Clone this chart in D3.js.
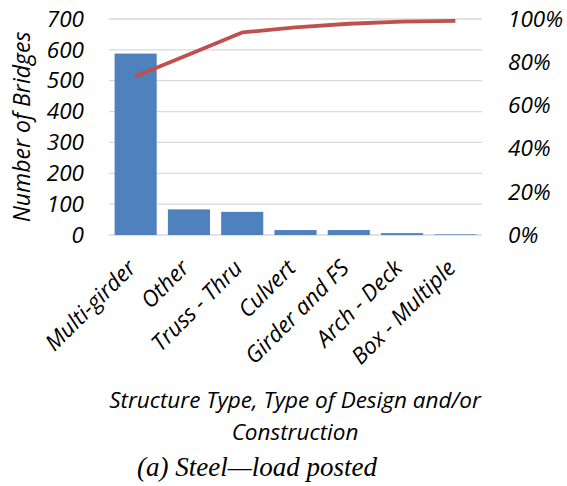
<!DOCTYPE html>
<html><head><meta charset="utf-8">
<script src="https://cdn.jsdelivr.net/npm/d3@7"></script>
<style>body{margin:0;background:#fff;} svg{display:block;}</style>
</head><body>
<svg id="chart" width="567" height="486"></svg>
<script>
const categories = ["Multi-girder","Other","Truss - Thru","Culvert","Girder and FS","Arch - Deck","Box - Multiple"];
const counts = [588, 83, 75, 16, 16, 6, 2];
const cumulativePct = [73.5, 83.6, 93.8, 96.1, 97.8, 98.8, 99.1];
const leftTicks = [0,100,200,300,400,500,600,700];
const rightTicks = [0,20,40,60,80,100];

const svg = d3.select("#chart");
const m = {left:109, right:482, top:19, bottom:235};
const font = "'Open Sans', sans-serif";

const x = d3.scaleBand().domain(categories).range([m.left, m.right]).paddingInner(0.21).paddingOuter(0.105);
const y = d3.scaleLinear().domain([0,700]).range([m.bottom, m.top]);
const y2 = d3.scaleLinear().domain([0,100]).range([m.bottom, m.top]);

// gridlines
svg.append("g").selectAll("line").data(leftTicks).join("line")
  .attr("x1", m.left).attr("x2", m.right)
  .attr("y1", d=>y(d)).attr("y2", d=>y(d))
  .attr("stroke", "#d9d9d9").attr("stroke-width", 1.3);

// bars
svg.append("g").selectAll("rect").data(counts).join("rect")
  .attr("x", (d,i)=>x(categories[i])).attr("width", x.bandwidth())
  .attr("y", d=>y(d)).attr("height", d=>m.bottom - y(d))
  .attr("fill", "#4F81BD");

// left axis
const la = svg.append("g").attr("transform", `translate(${m.left},0)`)
  .call(d3.axisLeft(y).tickValues(leftTicks).tickSize(0).tickPadding(25));
la.select(".domain").remove();
la.selectAll("text").attr("font-family", font).attr("font-style","italic")
  .attr("font-size", "22.5px").attr("fill", "#000");

// right axis
const ra = svg.append("g").attr("transform", `translate(${m.right},0)`)
  .call(d3.axisRight(y2).tickValues(rightTicks).tickFormat(d=>d+"%").tickSize(0).tickPadding(26));
ra.select(".domain").remove();
ra.selectAll("text").attr("font-family", font).attr("font-style","italic")
  .attr("font-size", "22.5px").attr("fill", "#000");

// cumulative line
const line = d3.line().x((d,i)=>x(categories[i]) + x.bandwidth()/2).y(d=>y2(d));
svg.append("path").datum(cumulativePct).attr("d", line)
  .attr("fill","none").attr("stroke","#C0504D").attr("stroke-width",3.8)
  .attr("stroke-linejoin","round");

// x labels
svg.append("g").selectAll("text").data(categories).join("text")
  .attr("transform", d=>`translate(${x(d)+x.bandwidth()/2 - 4},${m.bottom+29}) rotate(-45)`)
  .attr("text-anchor","end").attr("dy","0.35em")
  .attr("font-family", font).attr("font-style","italic").attr("font-size","22.5px")
  .text(d=>d);

// y title
svg.append("text").attr("transform", `translate(30,${(m.top+m.bottom)/2}) rotate(-90)`)
  .attr("text-anchor","middle").attr("font-family", font).attr("font-style","italic")
  .attr("font-size","23px").text("Number of Bridges");

// x title
const xt = svg.append("text").attr("text-anchor","middle").attr("font-family", font)
  .attr("font-style","italic").attr("font-size","22.5px");
xt.append("tspan").attr("x", 295).attr("y", 408).text("Structure Type, Type of Design and/or");
xt.append("tspan").attr("x", 295).attr("y", 440).text("Construction");

// caption
svg.append("text").attr("x", 257).attr("y", 476).attr("text-anchor","middle")
  .attr("font-family","'Liberation Serif', 'Times New Roman', serif").attr("font-style","italic")
  .attr("font-size","27px").text("(a) Steel\u2014load posted");
</script>
</body></html>
